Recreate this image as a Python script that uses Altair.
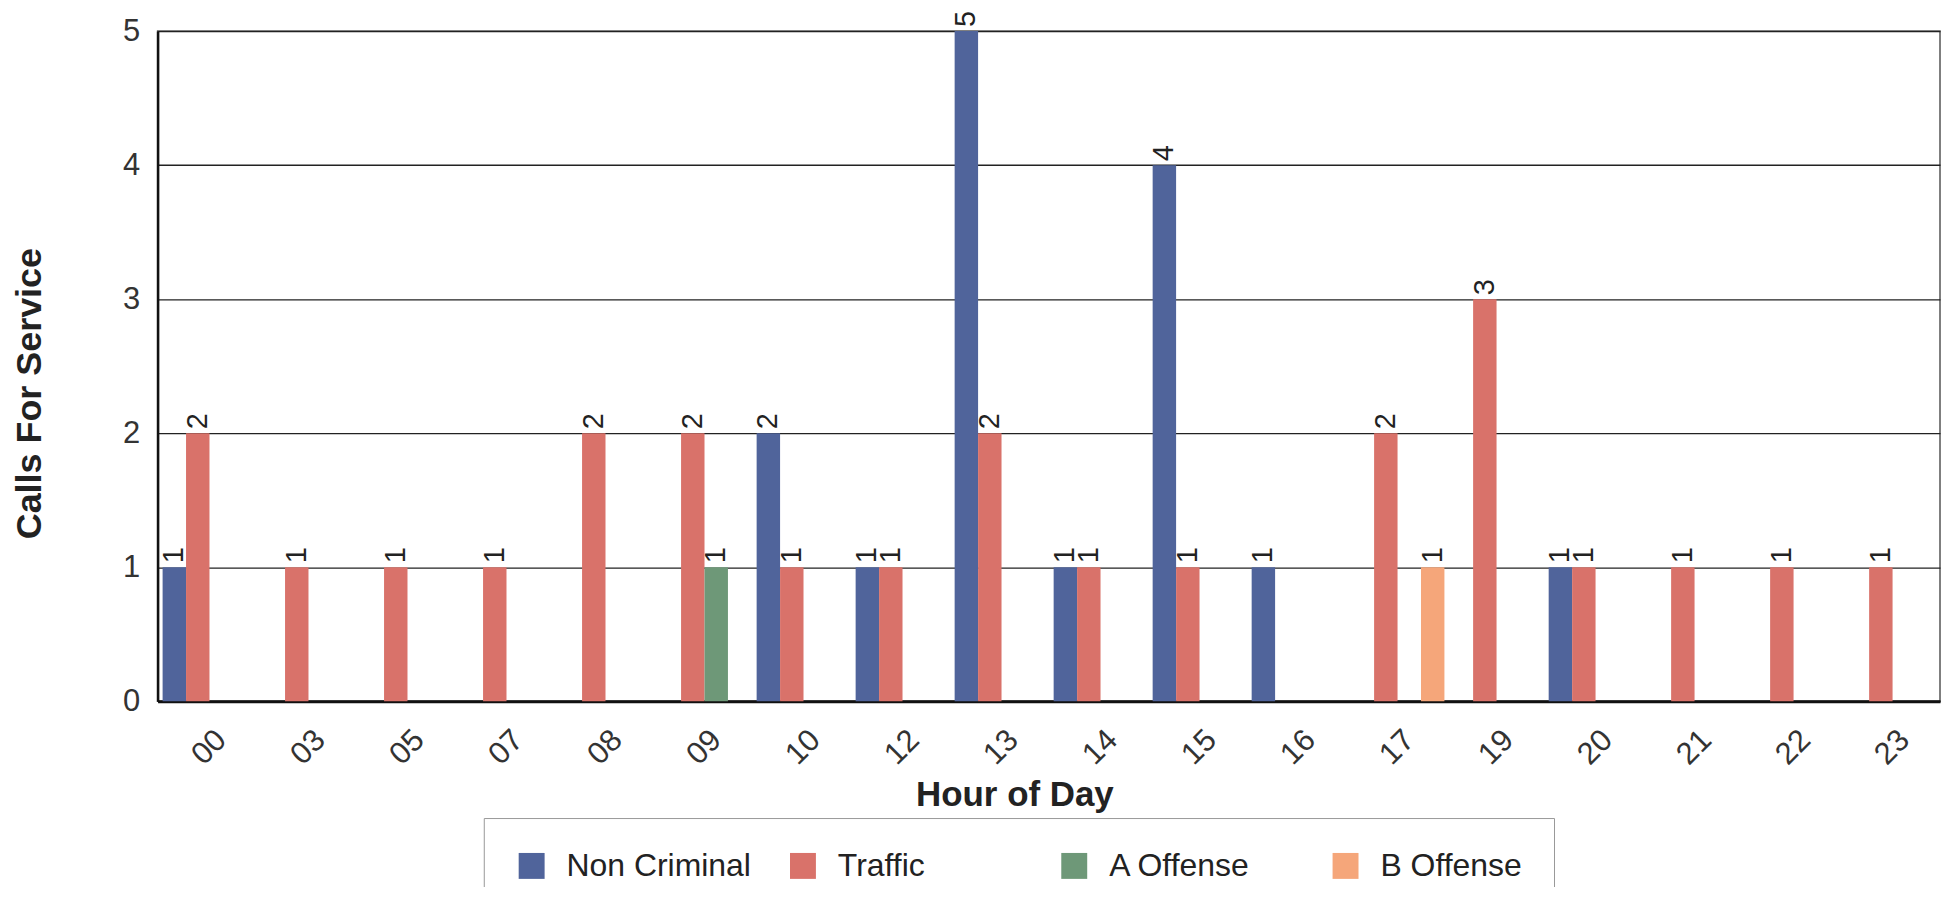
import altair as alt
import pandas as pd

hours = ["00", "03", "05", "07", "08", "09", "10", "12", "13", "14",
         "15", "16", "17", "19", "20", "21", "22", "23"]
series = ["Non Criminal", "Traffic", "A Offense", "B Offense"]
non_criminal = [1, 0, 0, 0, 0, 0, 2, 1, 5, 1, 4, 1, 0, 0, 1, 0, 0, 0]
traffic      = [2, 1, 1, 1, 2, 2, 1, 1, 2, 1, 1, 0, 2, 3, 1, 1, 1, 1]
a_offense    = [0, 0, 0, 0, 0, 1, 0, 0, 0, 0, 0, 0, 0, 0, 0, 0, 0, 0]
b_offense    = [0, 0, 0, 0, 0, 0, 0, 0, 0, 0, 0, 0, 1, 0, 0, 0, 0, 0]
colors = ["#50649b", "#d9726a", "#6e9878", "#f5a67a"]

rows = []
for i, h in enumerate(hours):
    for s, vals in zip(series, [non_criminal, traffic, a_offense, b_offense]):
        rows.append({"hour": h, "series": s, "value": vals[i]})
df = pd.DataFrame(rows)

FONT = "Liberation Sans"

x = alt.X(
    "hour:N", sort=hours,
    scale=alt.Scale(paddingInner=0.053, paddingOuter=0.028, align=0.9),
    axis=alt.Axis(
        title="Hour of Day", labelAngle=-45, labelAlign="center", labelBaseline="middle",
        labelPadding=46, ticks=False, tickSize=0, domainColor="#111", domainWidth=3,
        labelFontSize=31, labelColor="#333", labelFont=FONT,
        titleFontSize=35, titleFont=FONT, titleFontWeight="bold", titleColor="#222",
        titleX=859, titleY=93, titleAlign="center", titleBaseline="middle", grid=False,
    ),
)
xo = alt.XOffset("series:N", sort=series,
                 scale=alt.Scale(domain=series, paddingInner=0, paddingOuter=0))
y = alt.Y(
    "value:Q", scale=alt.Scale(domain=[0, 5], nice=False),
    axis=alt.Axis(
        title="Calls For Service", values=[0, 1, 2, 3, 4, 5], format="d",
        ticks=False, tickSize=0, labelPadding=18, labelFontSize=31, labelColor="#333",
        labelFont=FONT, domainColor="#111", domainWidth=2.5,
        grid=True, gridColor="#222", gridWidth=1.3,
        titleFontSize=36, titleFont=FONT, titleFontWeight="bold", titleColor="#222",
        titleAngle=270, titleX=-128, titleY=363, titleAlign="center", titleBaseline="middle",
    ),
)
color = alt.Color(
    "series:N", sort=series,
    scale=alt.Scale(domain=series, range=colors),
    legend=alt.Legend(
        title=None, orient="none", legendX=327, legendY=789, direction="horizontal",
        columns=4, columnPadding=36, gridAlign="all", symbolType="square", symbolSize=676,
        symbolStrokeWidth=0, labelFontSize=32, labelFont=FONT, labelColor="#222",
        labelOffset=19, labelLimit=500, padding=32, strokeColor="#999", fillColor="white",
    ),
)

base = alt.Chart(df).transform_filter(alt.datum.value > 0)

bars = base.mark_bar(opacity=1).encode(x=x, xOffset=xo, y=y, color=color)
labels = base.mark_text(
    angle=270, align="left", baseline="middle", dx=4, fontSize=29, font=FONT, color="#222"
).encode(x=x, xOffset=xo, y=y, text="value:Q")

chart = alt.layer(bars, labels).properties(
    width=1787, height=672,
    autosize=alt.AutoSizeParams(type="none"),
    padding={"left": 150, "top": 22, "right": 2, "bottom": 185},
    background="white",
).configure_view(stroke="#555", strokeWidth=1.5)

chart.save("out.html", embed_options={"renderer": "svg", "actions": False})
